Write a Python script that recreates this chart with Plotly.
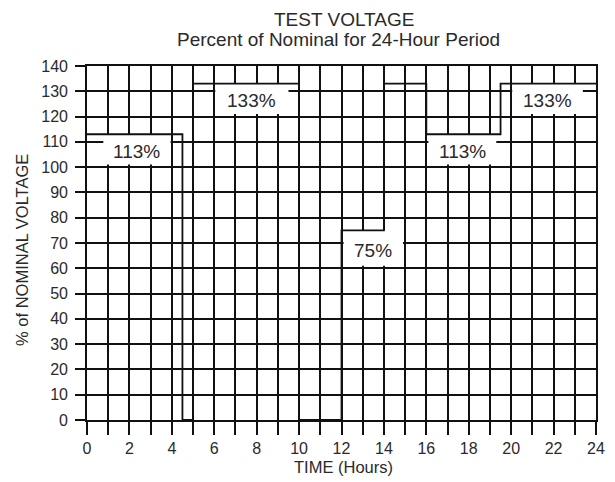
import plotly.graph_objects as go

# ---- data ----
times = [0, 4.5, 5, 10, 12, 14, 16, 19.5, 24]          # breakpoints (hours)
levels = [113, 0, 133, 0, 75, 133, 113, 133]           # % of nominal per interval
label_texts = ["113%", "133%", "75%", "113%", "133%"]
label_segments = [0, 2, 4, 6, 7]                        # interval each label annotates
x_ticks = list(range(0, 25))
x_tick_labels = [str(t) if t % 2 == 0 else "" for t in x_ticks]
y_ticks = list(range(0, 141, 10))
y_tick_labels = [str(v) for v in y_ticks]

# ---- label box geometry (layout only) ----
box_x = [(0.77, 3.94), (6.05, 9.5), (12.1, 14.9), (16.1, 19.3), (20.05, 23.38)]
box_depth = [12, 12, 14, 12, 12]

LINE = "#111111"
TEXT = "#2a2a2a"
SANS = "Liberation Sans, Arial, Helvetica, sans-serif"

fig = go.Figure()
fig.add_trace(go.Scatter(
    x=times, y=levels + [levels[-1]], mode="lines",
    line=dict(color=LINE, width=1.8, shape="hv"),
    hoverinfo="skip", showlegend=False,
))

shapes = []
annotations = []
for txt, seg, (bx0, bx1), d in zip(label_texts, label_segments, box_x, box_depth):
    top = levels[seg]
    shapes.append(dict(type="rect", xref="x", yref="y", x0=bx0, x1=bx1,
                       y0=top - d, y1=top, fillcolor="white",
                       line=dict(width=0), layer="between"))
    annotations.append(dict(x=(bx0 + bx1) / 2, y=top - d / 2 - 0.8, xref="x", yref="y",
                            text=txt, showarrow=False,
                            font=dict(family=SANS, size=19, color=TEXT)))

annotations += [
    dict(text="TEST VOLTAGE", x=0.504, y=1.13, xref="paper", yref="paper",
         xanchor="center", yanchor="middle", showarrow=False,
         font=dict(family=SANS, size=19, color=TEXT)),
    dict(text="Percent of Nominal for 24-Hour Period", x=0.494, y=1.074, xref="paper",
         yref="paper", xanchor="center", yanchor="middle", showarrow=False,
         font=dict(family=SANS, size=19, color=TEXT)),
    dict(text="% of NOMINAL VOLTAGE", x=-0.128, y=0.48, xref="paper", yref="paper",
         xanchor="center", yanchor="middle", textangle=-90, showarrow=False,
         font=dict(family=SANS, size=16.5, color=TEXT)),
    dict(text="TIME (Hours)", x=0.504, y=-0.133, xref="paper", yref="paper",
         xanchor="center", yanchor="middle", showarrow=False,
         font=dict(family=SANS, size=16.5, color=TEXT)),
]

axis_common = dict(
    showgrid=True, gridcolor=LINE, gridwidth=1.6,
    showline=True, linecolor=LINE, linewidth=1.6, mirror=True,
    zeroline=False, ticks="outside", tickcolor=LINE, tickwidth=1.6,
    tickfont=dict(family=SANS, size=16, color=TEXT),
    fixedrange=True,
)

fig.update_layout(
    width=615, height=482,
    margin=dict(l=87, r=10, t=66, b=62),
    paper_bgcolor="white", plot_bgcolor="white",
    xaxis=dict(range=[0, 24], tickmode="array", tickvals=x_ticks,
               ticktext=x_tick_labels, ticklen=13, **axis_common),
    yaxis=dict(range=[0, 140], tickmode="array", tickvals=y_ticks,
               ticktext=y_tick_labels, ticklen=10, ticklabelstandoff=4, **axis_common),
    shapes=shapes,
    annotations=annotations,
)

fig.write_html("out.html", config={"displayModeBar": False},
               post_script="document.body.style.margin='0';document.body.style.padding='0';")
